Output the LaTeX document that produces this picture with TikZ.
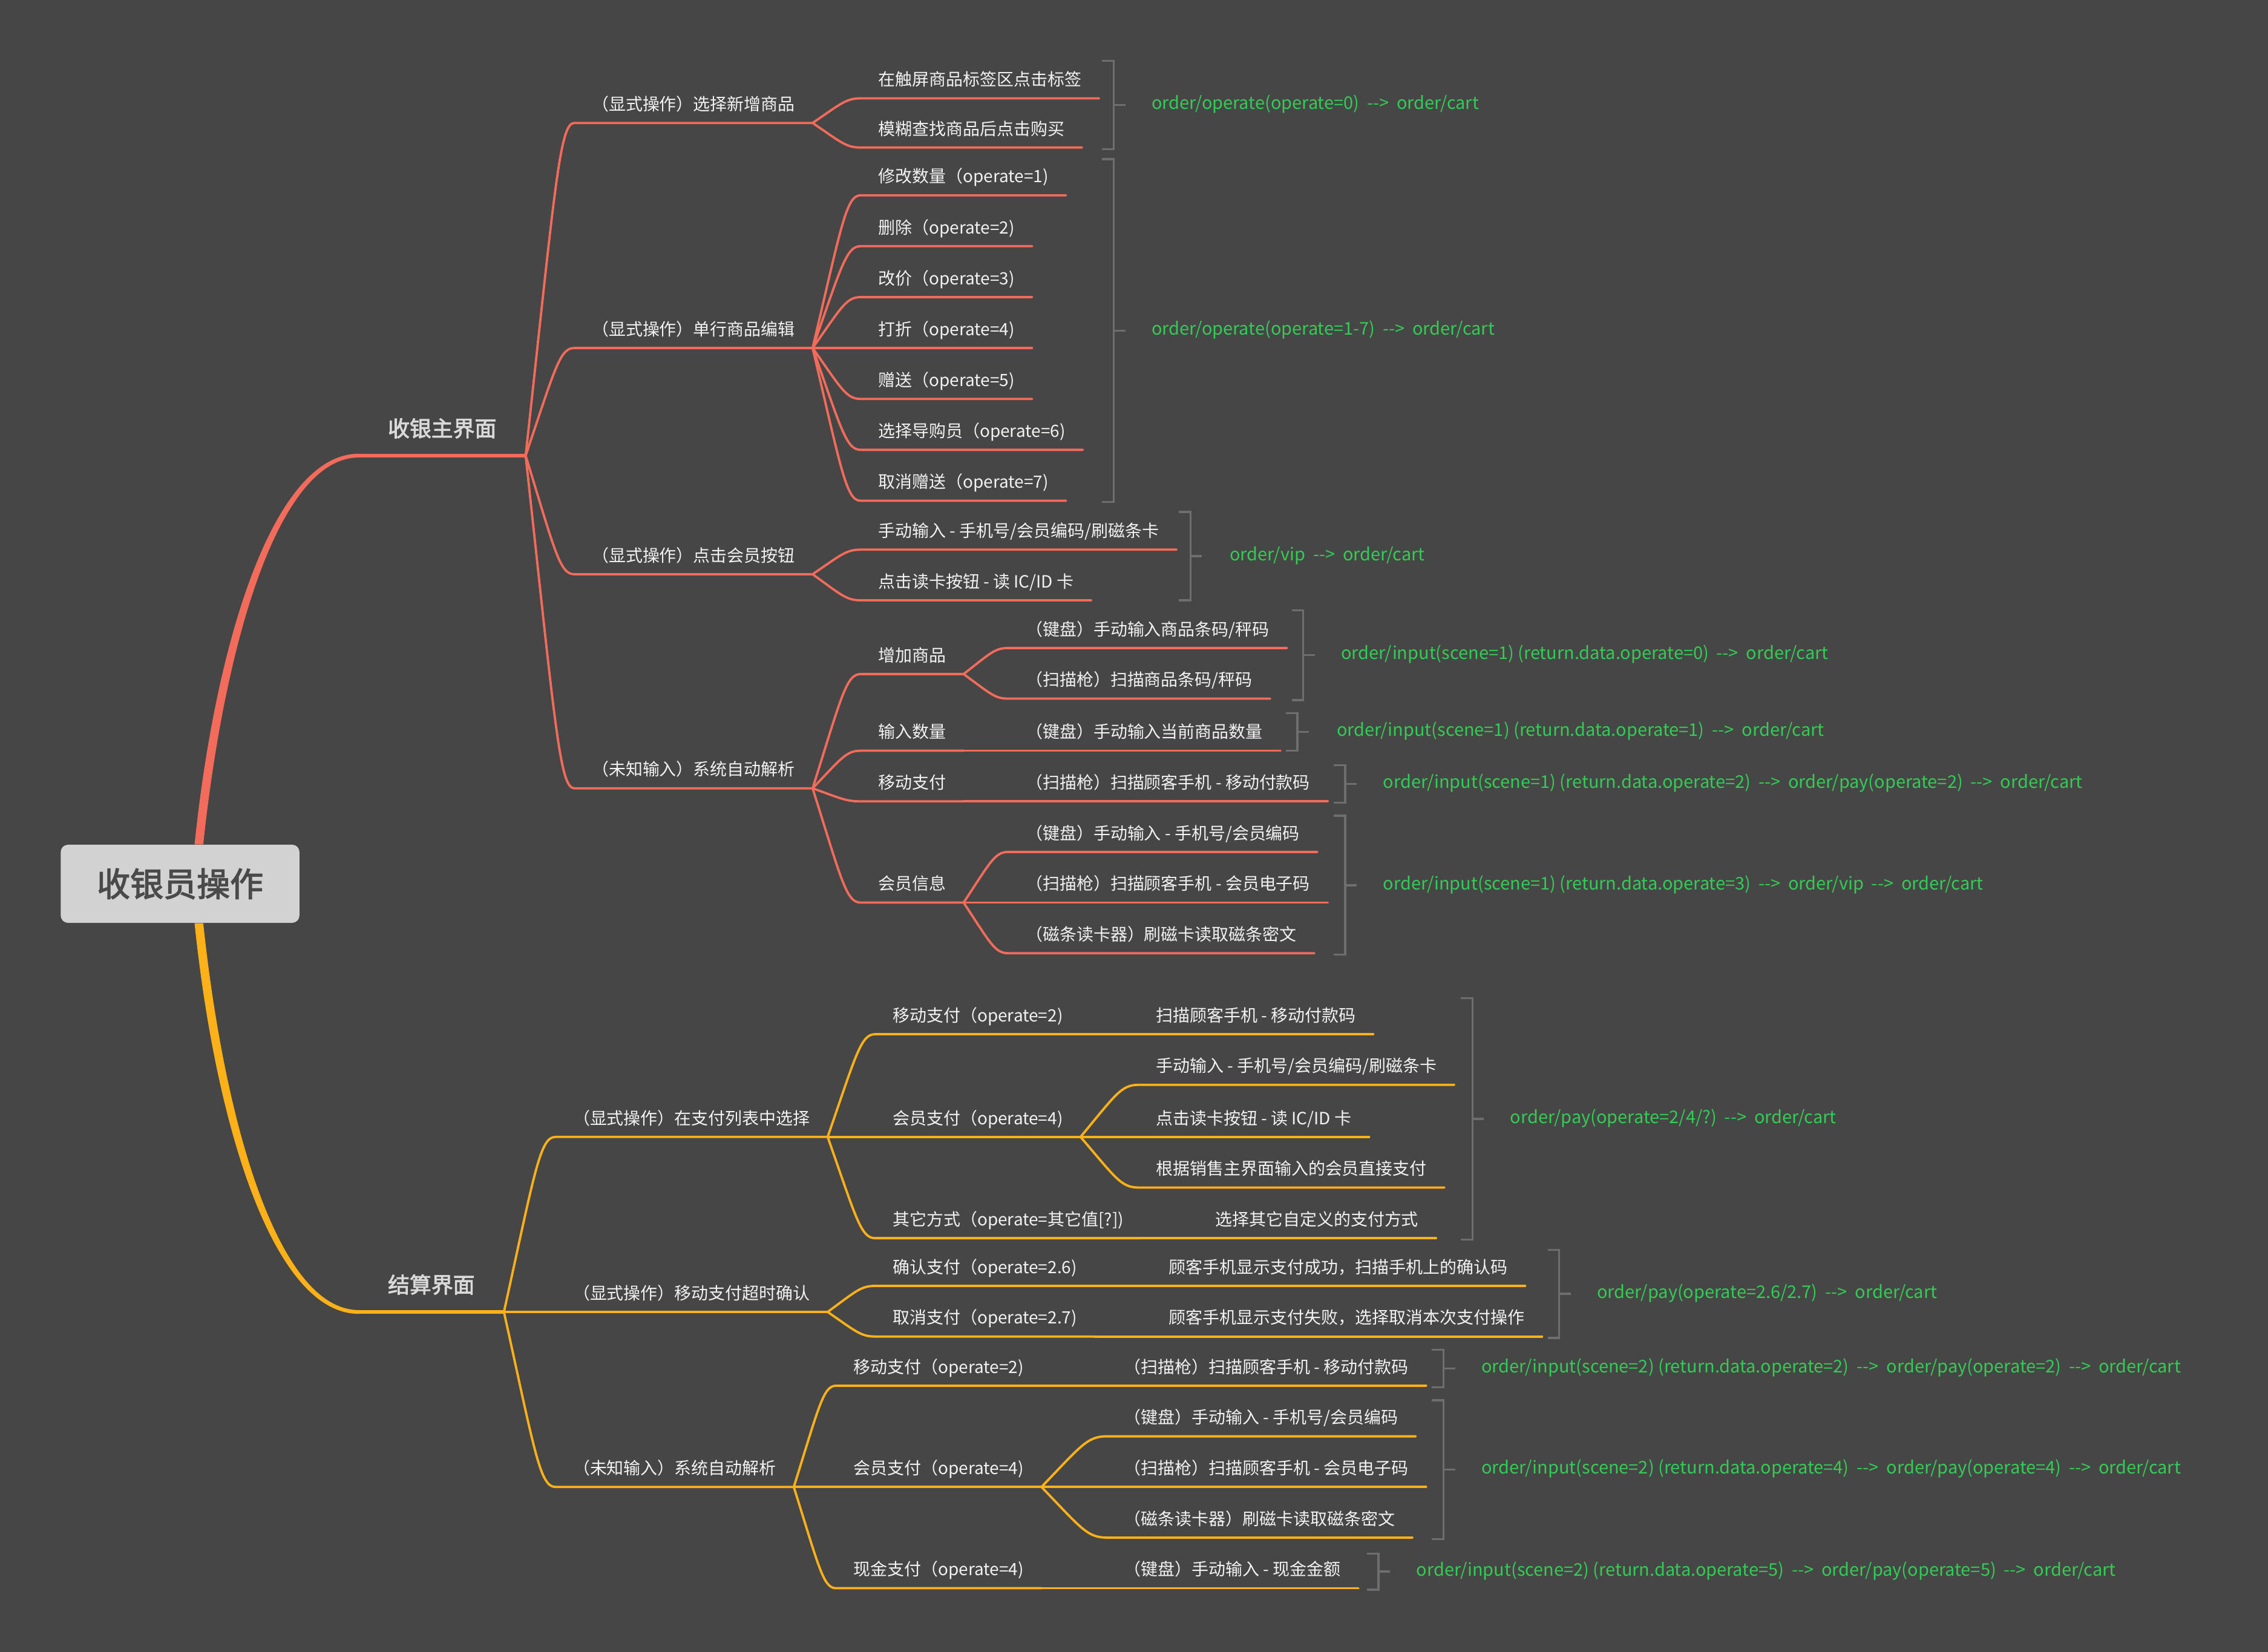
\documentclass[tikz,border=0pt]{standalone}
\usepackage{fontspec}
\setmainfont{Noto Sans CJK SC}[AutoFakeBold=2.5]
\usetikzlibrary{calc}

\definecolor{bgcol}{HTML}{464646}
\definecolor{redbr}{HTML}{F26B5B}
\definecolor{yelbr}{HTML}{FBB117}
\definecolor{codegreen}{HTML}{33CC55}
\definecolor{brackgray}{HTML}{6E6E6E}
\definecolor{rootfill}{HTML}{D2D2D2}
\definecolor{roottext}{HTML}{4A4A4A}
\definecolor{maintext}{HTML}{D9D9D9}
\definecolor{topictext}{HTML}{F2F2F2}

\newcommand{\goesto}{~~-{}->~~}

\tikzset{
  fork/.style={to path={.. controls ($(\tikztostart)!0.5!(\tikztostart |- \tikztotarget)!0.6!(\tikztotarget)$) and ($(\tikztostart |- \tikztotarget)!0.7!(\tikztotarget)$) .. (\tikztotarget)}},
  root/.style={fill=rootfill, rounded corners=5pt, minimum width=165pt, minimum height=54pt, inner sep=0pt, text=roottext, font=\bfseries\fontsize{23}{26}\selectfont},
  topic/.style={anchor=south west, inner xsep=12pt, inner ysep=5.5pt, text height=9pt, text depth=3pt, text=topictext, font=\fontsize{11.7}{14}\selectfont},
  branch/.style={topic, inner xsep=20pt, inner ysep=10pt, text height=12pt, text=maintext, font=\bfseries\fontsize{15}{18}\selectfont},
  summary/.style={anchor=west, inner sep=0pt, text height=9pt, text depth=3pt, text=codegreen, font=\fontsize{12.1}{14}\selectfont},
  redline/.style={draw=redbr, line width=1.6pt, line cap=round},
  yelline/.style={draw=yelbr, line width=1.6pt, line cap=round},
  bracket/.style={draw=brackgray, line width=1.4pt},
}

\begin{document}
\begin{tikzpicture}[x=1pt, y=-1pt]
\useasboundingbox (0,0) rectangle (1568,1142);
\fill[bgcol] (0,0) rectangle (1568,1142);

\node[root] (root) at (124.5,611) {收银员操作};
\node[branch] (main) at (248,315) {收银主界面};
\node[branch] (pay) at (248,907) {结算界面};

\fill[redbr] ([xshift=10pt]root.north) .. controls +(15,-144) and +(-58,0) .. ([yshift=1.3pt]main.south west)
  -- ([yshift=-1.3pt]main.south west) .. controls +(-55,0) and +(15,-141) .. ([xshift=16pt]root.north) -- cycle;
\draw[redbr, line width=2.6pt] (main.south west) -- (main.south east);
\fill[yelbr] ([xshift=10pt]root.south) .. controls +(15,144) and +(-58,0) .. ([yshift=-1.3pt]pay.south west)
  -- ([yshift=1.3pt]pay.south west) .. controls +(-55,0) and +(15,141) .. ([xshift=16pt]root.south) -- cycle;
\draw[yelbr, line width=2.6pt] (pay.south west) -- (pay.south east);

% 收银主界面
\node[topic] (pick) at (397,85) {（显式操作）选择新增商品};
\node[topic] (edit) at (397,240.6) {（显式操作）单行商品编辑};
\node[topic] (vip) at (397,397) {（显式操作）点击会员按钮};
\node[topic] (scan) at (397,545) {（未知输入）系统自动解析};
\foreach \n in {pick,edit,vip,scan}
  \draw[redline] (main.south east) to[fork] (\n.south west) -- (\n.south east);

\node[topic] (tag) at (595,68) {在触屏商品标签区点击标签};
\node[topic] (fuzzy) at (595,102) {模糊查找商品后点击购买};
\foreach \n in {tag,fuzzy}
  \draw[redline] (pick.south east) to[fork] (\n.south west) -- (\n.south east);

\foreach \i/\lab in {1/修改数量,2/删除,3/改价,4/打折,5/赠送,6/选择导购员,7/取消赠送}{
  \node[topic] (op\i) at (595,{135+35.2*(\i-1)}) {\lab（operate=\i)};
  \draw[redline] (edit.south east) to[fork] (op\i.south west) -- (op\i.south east);
}

\node[topic] (vipin) at (595,380) {手动输入 - 手机号/会员编码/刷磁条卡};
\node[topic] (vipcard) at (595,415) {点击读卡按钮 - 读 IC/ID 卡};
\foreach \n in {vipin,vipcard}
  \draw[redline] (vip.south east) to[fork] (\n.south west) -- (\n.south east);

\node[topic] (additem) at (595,466) {增加商品};
\node[topic] (qty) at (595,519) {输入数量};
\node[topic] (mobile) at (595,554) {移动支付};
\node[topic] (member) at (595,624) {会员信息};
\foreach \n in {additem,qty,mobile,member}
  \draw[redline] (scan.south east) to[fork] (\n.south west) -- (\n.south east);

\node[topic] (keycode) at (697,448) {（键盘）手动输入商品条码/秤码};
\node[topic] (scancode) at (697,483) {（扫描枪）扫描商品条码/秤码};
\foreach \n in {keycode,scancode}
  \draw[redline] (additem.south east) to[fork] (\n.south west) -- (\n.south east);
\node[topic] (keyqty) at (697,519) {（键盘）手动输入当前商品数量};
\draw[redline] (qty.south east) -- (keyqty.south west) -- (keyqty.south east);
\node[topic] (scanpay) at (697,554) {（扫描枪）扫描顾客手机 - 移动付款码};
\draw[redline] (mobile.south east) -- (scanpay.south west) -- (scanpay.south east);
\node[topic] (keyvip) at (697,589) {（键盘）手动输入 - 手机号/会员编码};
\node[topic] (scanvip) at (697,624) {（扫描枪）扫描顾客手机 - 会员电子码};
\node[topic] (swipe) at (697,659) {（磁条读卡器）刷磁卡读取磁条密文};
\foreach \n in {keyvip,scanvip,swipe}
  \draw[redline] (member.south east) to[fork] (\n.south west) -- (\n.south east);

% 结算界面
\node[topic] (paylist) at (384,786) {（显式操作）在支付列表中选择};
\node[topic] (timeout) at (384,907) {（显式操作）移动支付超时确认};
\node[topic] (autopay) at (384,1028) {（未知输入）系统自动解析};
\foreach \n in {paylist,timeout,autopay}
  \draw[yelline] (pay.south east) to[fork] (\n.south west) -- (\n.south east);

\node[topic] (listmob) at (605,715) {移动支付（operate=2)};
\node[topic] (listvip) at (605,786) {会员支付（operate=4)};
\node[topic] (listother) at (605,856) {其它方式（operate=其它值[?])};
\foreach \n in {listmob,listvip,listother}
  \draw[yelline] (paylist.south east) to[fork] (\n.south west) -- (\n.south east);
\node[topic] (listmobx) at (787,715) {扫描顾客手机 - 移动付款码};
\draw[yelline] (listmob.south east) -- (listmobx.south west) -- (listmobx.south east);
\node[topic] (listvip1) at (787,750) {手动输入 - 手机号/会员编码/刷磁条卡};
\node[topic] (listvip2) at (787,786) {点击读卡按钮 - 读 IC/ID 卡};
\node[topic] (listvip3) at (787,821) {根据销售主界面输入的会员直接支付};
\foreach \n in {listvip1,listvip2,listvip3}
  \draw[yelline] (listvip.south east) to[fork] (\n.south west) -- (\n.south east);
\node[topic] (listotherx) at (828,856) {选择其它自定义的支付方式};
\draw[yelline] (listother.south east) -- (listotherx.south west) -- (listotherx.south east);

\node[topic] (confirm) at (605,889) {确认支付（operate=2.6)};
\node[topic] (cancel) at (605,924) {取消支付（operate=2.7)};
\foreach \n in {confirm,cancel}
  \draw[yelline] (timeout.south east) to[fork] (\n.south west) -- (\n.south east);
\node[topic] (confirmx) at (796,889) {顾客手机显示支付成功，扫描手机上的确认码};
\draw[yelline] (confirm.south east) -- (confirmx.south west) -- (confirmx.south east);
\node[topic] (cancelx) at (796,924) {顾客手机显示支付失败，选择取消本次支付操作};
\draw[yelline] (cancel.south east) -- (cancelx.south west) -- (cancelx.south east);

\node[topic] (automob) at (578,958) {移动支付（operate=2)};
\node[topic] (autovip) at (578,1028) {会员支付（operate=4)};
\node[topic] (autocash) at (578,1098) {现金支付（operate=4)};
\foreach \n in {automob,autovip,autocash}
  \draw[yelline] (autopay.south east) to[fork] (\n.south west) -- (\n.south east);
\node[topic] (automobx) at (765,958) {（扫描枪）扫描顾客手机 - 移动付款码};
\draw[yelline] (automob.south east) -- (automobx.south west) -- (automobx.south east);
\node[topic] (autovip1) at (765,993) {（键盘）手动输入 - 手机号/会员编码};
\node[topic] (autovip2) at (765,1028) {（扫描枪）扫描顾客手机 - 会员电子码};
\node[topic] (autovip3) at (765,1063) {（磁条读卡器）刷磁卡读取磁条密文};
\foreach \n in {autovip1,autovip2,autovip3}
  \draw[yelline] (autovip.south east) to[fork] (\n.south west) -- (\n.south east);
\node[topic] (autocashx) at (765,1098) {（键盘）手动输入 - 现金金额};
\draw[yelline] (autocash.south east) -- (autocashx.south west) -- (autocashx.south east);

% brackets and requests
\foreach \x/\ya/\yb in {770/42/103,770/110/347,823/354/415,901/422/484,897/493/519,930/529/555,930/564/660,1018/690/857,1078/864/925,998/933/959,998/968/1064,953/1074/1099}
  \draw[bracket] (\x-8,\ya) -- (\x,\ya) -- (\x,\yb) -- (\x-8,\yb) (\x,{(\ya+\yb)/2}) -- ++(8,0);

\node[summary] (newcode) at (796,72.5) {order/operate(operate=0)\goesto order/cart};
\node[summary] (editcode) at (796,228.5) {order/operate(operate=1-7)\goesto order/cart};
\node[summary] (vipcode) at (850,384.5) {order/vip\goesto order/cart};
\node[summary] (addcode) at (927,453) {order/input(scene=1) (return.data.operate=0)\goesto order/cart};
\node[summary] (qtycode) at (924,506) {order/input(scene=1) (return.data.operate=1)\goesto order/cart};
\node[summary] (mobcode) at (956,542) {order/input(scene=1) (return.data.operate=2)\goesto order/pay(operate=2)\goesto order/cart};
\node[summary] (membercode) at (956,612) {order/input(scene=1) (return.data.operate=3)\goesto order/vip\goesto order/cart};
\node[summary] (listcode) at (1044,773.5) {order/pay(operate=2/4/?)\goesto order/cart};
\node[summary] (timeoutcode) at (1104,894.5) {order/pay(operate=2.6/2.7)\goesto order/cart};
\node[summary] (automobcode) at (1024,946) {order/input(scene=2) (return.data.operate=2)\goesto order/pay(operate=2)\goesto order/cart};
\node[summary] (autovipcode) at (1024,1016) {order/input(scene=2) (return.data.operate=4)\goesto order/pay(operate=4)\goesto order/cart};
\node[summary] (autocashcode) at (979,1086.5) {order/input(scene=2) (return.data.operate=5)\goesto order/pay(operate=5)\goesto order/cart};
\end{tikzpicture}
\end{document}
